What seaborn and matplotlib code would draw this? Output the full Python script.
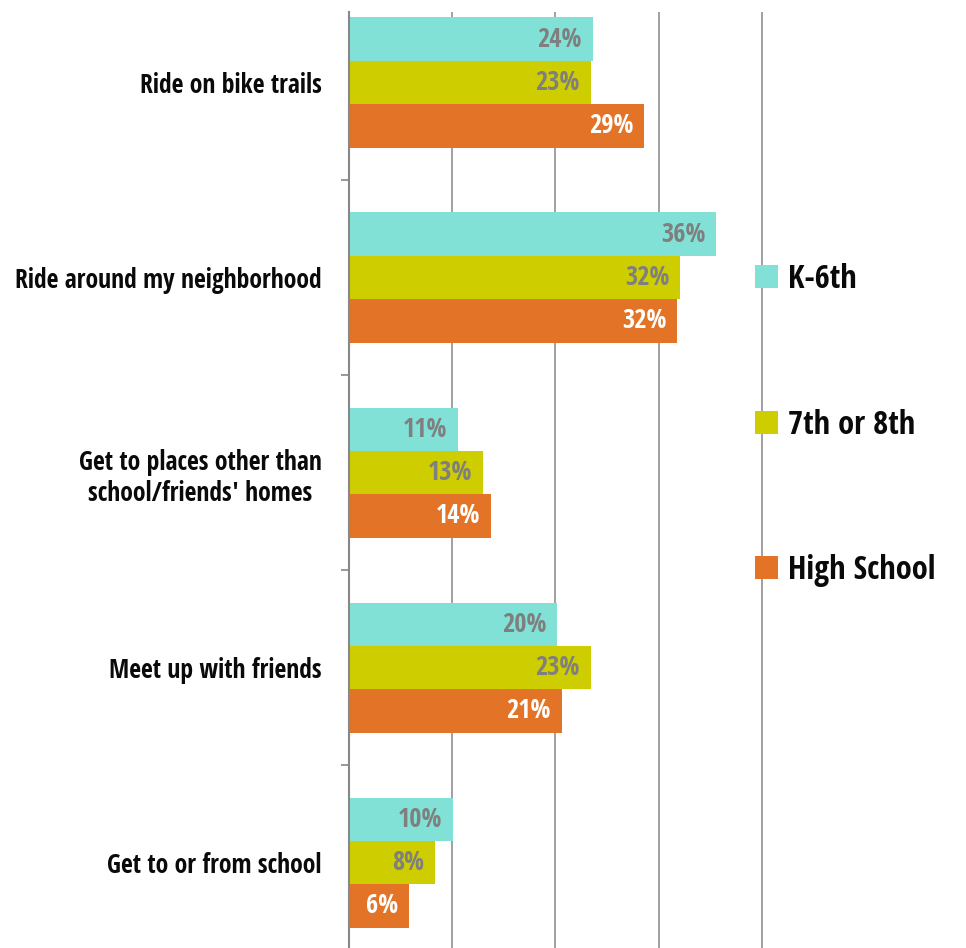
import matplotlib
matplotlib.use("Agg")
import matplotlib.pyplot as plt
import matplotlib.patches as patches
import seaborn as sns
import pandas as pd

# data
activities = [
    "Ride on bike trails",
    "Ride around my neighborhood",
    "Get to places other than\nschool/friends' homes",
    "Meet up with friends",
    "Get to or from school",
]
grades = ["K-6th", "7th or 8th", "High School"]
k6 = [23.6, 35.6, 10.6, 20.2, 10.1]
grade78 = [23.4, 32.1, 13.0, 23.4, 8.3]
high_school = [28.6, 31.8, 13.8, 20.6, 5.8]

colors = ["#81E1D6", "#CDCD00", "#E37427"]
label_colors = ["#7F7F7F", "#7F7F7F", "#FFFFFF"]

rows = []
for series, vals in zip(grades, [k6, grade78, high_school]):
    for act, v in zip(activities, vals):
        rows.append({"activity": act, "grade": series, "pct": v})
df = pd.DataFrame(rows)

sns.set_style("white")
plt.rcParams["font.family"] = ["Open Sans Condensed", "Fira Sans Condensed",
                               "Roboto Condensed", "PT Sans Narrow", "DejaVu Sans"]
plt.rcParams["font.weight"] = "bold"
plt.rcParams["text.color"] = "#0A0A0A"
plt.rcParams["ytick.color"] = "#0A0A0A"

W, H = 966, 948
fig = plt.figure(figsize=(W / 100, H / 100), dpi=100)
ax = fig.add_axes([349 / W, 0, (767 - 349) / W, 936 / H])

sns.barplot(data=df, y="activity", x="pct", hue="grade", orient="h",
            palette=colors, width=0.667, linewidth=0, saturation=1,
            legend=False, ax=ax)

# value labels inside bar ends
for cont, lc in zip(ax.containers, label_colors):
    for bar, v in zip(cont.patches, cont.datavalues):
        ax.text(bar.get_width() - 1.05, bar.get_y() + bar.get_height() / 2,
                f"{v:.0f}%", ha="right", va="center", color=lc,
                fontsize=19, fontweight="bold")

ax.set_xlim(0, 40.5)
ax.set_ylim(4.438, -0.3615)
ax.set_xticks([10, 20, 30, 40])
ax.xaxis.grid(True, color="#999999", linewidth=1.3)
ax.set_axisbelow(True)
ax.tick_params(axis="x", length=0, labelbottom=False)
ax.set_xlabel("")
ax.set_ylabel("")

ax.tick_params(axis="y", which="major", length=0, pad=19.5, labelsize=18.5,
               labelcolor="#0A0A0A")
ax.set_yticks([0.5, 1.5, 2.5, 3.5], minor=True)
ax.tick_params(axis="y", which="minor", left=True, length=6, width=1.2,
               color="#888888")
for lab in ax.get_yticklabels():
    lab.set_multialignment("center")
    lab.set_fontweight("bold")

for s in ["top", "right", "bottom"]:
    ax.spines[s].set_visible(False)
ax.spines["left"].set_color("#888888")
ax.spines["left"].set_linewidth(1.5)

handles = [patches.Patch(facecolor=c, edgecolor="none", label=g)
           for c, g in zip(colors, grades)]
fig.legend(handles=handles, loc="upper left", bbox_to_anchor=(742 / W, 1 - 250 / H),
           frameon=False, handlelength=0.7, handleheight=0.7,
           handletextpad=0.3, labelspacing=3.45, borderaxespad=0,
           prop={"weight": "bold", "size": 23.5})

fig.savefig("out.png", dpi=100)
